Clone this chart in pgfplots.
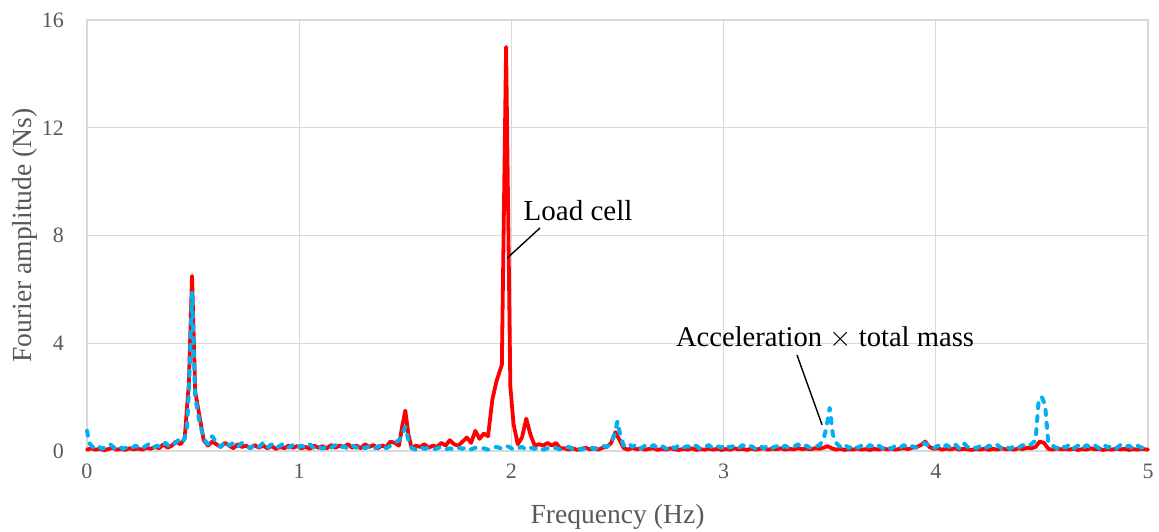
\documentclass[border=0pt]{standalone}
\usepackage{fontspec}
\setmainfont{Liberation Serif}
\usepackage{pgfplots}
\pgfplotsset{compat=1.18}
\usetikzlibrary{calc}
\definecolor{loadred}{HTML}{FF0000}
\definecolor{accblue}{HTML}{00B0F0}
\definecolor{gridgray}{HTML}{D9D9D9}
\definecolor{labgray}{HTML}{595959}

\begin{document}
\begin{tikzpicture}
\begin{axis}[
    scale only axis,
    width=530.5pt, height=215.5pt,
    xmin=0, xmax=5, ymin=0, ymax=16,
    xtick={0,1,2,3,4,5}, ytick={0,4,8,12,16},
    grid=major,
    major grid style={draw=gridgray, line width=0.6pt},
    axis line style={draw=gridgray, line width=0.6pt},
    tick style={draw=none},
    /pgf/number format/assume math mode=true,
    tick label style={font=\fontsize{11}{13}\selectfont, text=labgray},
    xticklabel style={anchor=center, yshift=-10pt},
    yticklabel style={anchor=east, xshift=-8pt},
    xlabel={Frequency (Hz)}, ylabel={Fourier amplitude (Ns)},
    label style={font=\fontsize{13.8}{16}\selectfont, text=labgray},
    xlabel style={at={($(axis description cs:0.5,0)+(0,-33pt)$)}, anchor=center},
    ylabel style={at={($(axis description cs:0,0.5)+(-31pt,0)$)}, anchor=center, rotate=0},
    clip=false,
]
% load cell
\addplot[loadred, line width=1.9pt, line join=round, line cap=round] coordinates {
(0.00,0.05) (0.02,0.10) (0.04,0.05) (0.06,0.08) (0.08,0.03) (0.10,0.07) (0.12,0.12) (0.14,0.05)
(0.16,0.08) (0.18,0.04) (0.20,0.10) (0.22,0.06) (0.24,0.09) (0.26,0.05) (0.28,0.12) (0.30,0.08)
(0.32,0.15) (0.34,0.10) (0.36,0.25) (0.38,0.12) (0.40,0.20) (0.42,0.35) (0.44,0.25) (0.46,0.45)
(0.48,2.5) (0.495,6.5) (0.51,2.2) (0.53,1.3) (0.55,0.4) (0.57,0.2) (0.59,0.35) (0.61,0.25)
(0.63,0.15) (0.65,0.3) (0.67,0.2) (0.69,0.1) (0.71,0.25) (0.73,0.15) (0.75,0.2) (0.77,0.1)
(0.79,0.22) (0.81,0.12) (0.83,0.2) (0.85,0.1) (0.87,0.18) (0.89,0.08) (0.91,0.15) (0.93,0.1)
(0.95,0.2) (0.97,0.12) (0.99,0.18) (1.01,0.1) (1.03,0.15) (1.05,0.08) (1.07,0.2) (1.09,0.12)
(1.11,0.18) (1.13,0.1) (1.15,0.22) (1.17,0.12) (1.19,0.2) (1.21,0.15) (1.23,0.25) (1.25,0.12)
(1.27,0.2) (1.29,0.1) (1.31,0.25) (1.33,0.15) (1.35,0.22) (1.37,0.1) (1.39,0.2) (1.41,0.15)
(1.43,0.35) (1.45,0.3) (1.47,0.2) (1.485,0.9) (1.50,1.5) (1.515,0.6) (1.53,0.1) (1.55,0.2)
(1.57,0.15) (1.59,0.25) (1.61,0.12) (1.63,0.2) (1.65,0.15) (1.67,0.3) (1.69,0.2) (1.71,0.4)
(1.73,0.25) (1.75,0.2) (1.77,0.35) (1.79,0.5) (1.81,0.3) (1.83,0.75) (1.85,0.45) (1.87,0.65)
(1.89,0.55) (1.91,1.9) (1.93,2.6) (1.955,3.2) (1.975,15.0) (1.995,2.4) (2.01,1.0) (2.03,0.25)
(2.05,0.5) (2.07,1.2) (2.09,0.6) (2.11,0.2) (2.13,0.25) (2.15,0.2) (2.17,0.3) (2.19,0.2)
(2.21,0.3) (2.23,0.1) (2.25,0.1) (2.27,0.05) (2.29,0.1) (2.31,0.04) (2.33,0.08) (2.35,0.12)
(2.37,0.06) (2.39,0.1) (2.41,0.05) (2.43,0.12) (2.45,0.15) (2.47,0.3) (2.49,0.7) (2.51,0.4)
(2.53,0.1) (2.55,0.05) (2.57,0.12) (2.59,0.06) (2.61,0.1) (2.63,0.05) (2.65,0.08) (2.67,0.1)
(2.69,0.04) (2.71,0.08) (2.73,0.05) (2.75,0.1) (2.77,0.06) (2.79,0.04) (2.81,0.08) (2.83,0.05)
(2.85,0.1) (2.87,0.04) (2.89,0.07) (2.91,0.05) (2.93,0.09) (2.95,0.05) (2.97,0.08) (2.99,0.04)
(3.01,0.07) (3.03,0.05) (3.05,0.1) (3.07,0.06) (3.09,0.08) (3.11,0.04) (3.13,0.09) (3.15,0.05)
(3.17,0.08) (3.19,0.1) (3.21,0.05) (3.23,0.09) (3.25,0.06) (3.27,0.1) (3.29,0.05) (3.31,0.08)
(3.33,0.06) (3.35,0.1) (3.37,0.07) (3.39,0.09) (3.41,0.06) (3.43,0.1) (3.45,0.08) (3.47,0.12)
(3.49,0.18) (3.51,0.1) (3.53,0.05) (3.55,0.08) (3.57,0.04) (3.59,0.07) (3.61,0.05) (3.63,0.09)
(3.65,0.05) (3.67,0.07) (3.69,0.04) (3.71,0.08) (3.73,0.05) (3.75,0.1) (3.77,0.06) (3.79,0.09)
(3.81,0.05) (3.83,0.08) (3.85,0.1) (3.87,0.07) (3.89,0.12) (3.91,0.15) (3.93,0.22) (3.95,0.35)
(3.97,0.15) (3.99,0.08) (4.01,0.1) (4.03,0.05) (4.05,0.09) (4.07,0.06) (4.09,0.1) (4.11,0.05)
(4.13,0.08) (4.15,0.06) (4.17,0.04) (4.19,0.08) (4.21,0.05) (4.23,0.09) (4.25,0.04) (4.27,0.08)
(4.29,0.05) (4.31,0.1) (4.33,0.06) (4.35,0.08) (4.37,0.05) (4.39,0.1) (4.41,0.07) (4.43,0.12)
(4.45,0.1) (4.47,0.15) (4.49,0.35) (4.51,0.3) (4.53,0.08) (4.55,0.05) (4.57,0.1) (4.59,0.06)
(4.61,0.08) (4.63,0.05) (4.65,0.09) (4.67,0.04) (4.69,0.07) (4.71,0.05) (4.73,0.1) (4.75,0.06)
(4.77,0.08) (4.79,0.04) (4.81,0.07) (4.83,0.05) (4.85,0.09) (4.87,0.06) (4.89,0.08) (4.91,0.04)
(4.93,0.07) (4.95,0.05) (4.97,0.08) (4.99,0.06) (5.00,0.05)
};
% acceleration x total mass
\addplot[accblue, line width=2pt, dash pattern=on 2.5pt off 4pt, line join=round, line cap=round] coordinates {
(0.00,0.75) (0.01,0.3) (0.03,0.12) (0.05,0.2) (0.07,0.08) (0.09,0.15) (0.11,0.25) (0.13,0.1)
(0.15,0.18) (0.17,0.08) (0.19,0.15) (0.21,0.1) (0.23,0.2) (0.25,0.08) (0.27,0.15) (0.29,0.25)
(0.31,0.1) (0.33,0.2) (0.35,0.12) (0.37,0.3) (0.39,0.15) (0.41,0.25) (0.43,0.4) (0.45,0.3)
(0.47,0.7) (0.48,2.2) (0.495,5.9) (0.51,2.0) (0.53,1.1) (0.55,0.45) (0.57,0.25) (0.59,0.55)
(0.61,0.3) (0.63,0.15) (0.65,0.35) (0.67,0.2) (0.69,0.3) (0.71,0.15) (0.73,0.3) (0.75,0.2)
(0.77,0.1) (0.79,0.25) (0.81,0.15) (0.83,0.3) (0.85,0.12) (0.87,0.25) (0.89,0.1) (0.91,0.2)
(0.93,0.28) (0.95,0.12) (0.97,0.22) (0.99,0.1) (1.01,0.2) (1.03,0.12) (1.05,0.25) (1.07,0.1)
(1.09,0.18) (1.11,0.08) (1.13,0.2) (1.15,0.12) (1.17,0.22) (1.19,0.1) (1.21,0.18) (1.23,0.08)
(1.25,0.2) (1.27,0.12) (1.29,0.22) (1.31,0.1) (1.33,0.18) (1.35,0.08) (1.37,0.15) (1.39,0.25)
(1.41,0.1) (1.43,0.2) (1.45,0.3) (1.47,0.4) (1.485,0.6) (1.50,0.9) (1.515,0.4) (1.53,0.12)
(1.55,0.05) (1.57,0.15) (1.59,0.08) (1.61,0.12) (1.63,0.05) (1.65,0.1) (1.67,0.15) (1.69,0.06)
(1.71,0.1) (1.73,0.05) (1.75,0.12) (1.77,0.08) (1.79,0.15) (1.81,0.06) (1.83,0.12) (1.85,0.08)
(1.87,0.1) (1.89,0.05) (1.91,0.12) (1.93,0.15) (1.95,0.1) (1.97,0.2) (1.99,0.15) (2.01,0.05)
(2.03,0.1) (2.05,0.15) (2.07,0.05) (2.09,0.12) (2.11,0.08) (2.13,0.15) (2.15,0.05) (2.17,0.1)
(2.19,0.06) (2.21,0.12) (2.23,0.05) (2.25,0.1) (2.27,0.15) (2.29,0.08) (2.31,0.12) (2.33,0.05)
(2.35,0.1) (2.37,0.15) (2.39,0.08) (2.41,0.12) (2.43,0.2) (2.45,0.15) (2.47,0.3) (2.485,0.6)
(2.50,1.1) (2.515,0.5) (2.53,0.2) (2.55,0.3) (2.57,0.15) (2.59,0.25) (2.61,0.1) (2.63,0.2)
(2.65,0.12) (2.67,0.22) (2.69,0.1) (2.71,0.18) (2.73,0.08) (2.75,0.2) (2.77,0.1) (2.79,0.22)
(2.81,0.12) (2.83,0.18) (2.85,0.1) (2.87,0.2) (2.89,0.08) (2.91,0.15) (2.93,0.22) (2.95,0.1)
(2.97,0.18) (2.99,0.12) (3.01,0.25) (3.03,0.12) (3.05,0.2) (3.07,0.1) (3.09,0.22) (3.11,0.12)
(3.13,0.18) (3.15,0.08) (3.17,0.2) (3.19,0.1) (3.21,0.22) (3.23,0.12) (3.25,0.18) (3.27,0.08)
(3.29,0.2) (3.31,0.1) (3.33,0.15) (3.35,0.25) (3.37,0.12) (3.39,0.2) (3.41,0.1) (3.43,0.18)
(3.45,0.2) (3.47,0.4) (3.485,0.9) (3.50,1.6) (3.515,0.6) (3.53,0.3) (3.55,0.15) (3.57,0.25)
(3.59,0.1) (3.61,0.22) (3.63,0.12) (3.65,0.2) (3.67,0.1) (3.69,0.22) (3.71,0.12) (3.73,0.2)
(3.75,0.1) (3.77,0.18) (3.79,0.08) (3.81,0.2) (3.83,0.12) (3.85,0.22) (3.87,0.1) (3.89,0.18)
(3.91,0.12) (3.93,0.2) (3.95,0.3) (3.97,0.15) (3.99,0.1) (4.01,0.2) (4.03,0.1) (4.05,0.22)
(4.07,0.12) (4.09,0.25) (4.11,0.1) (4.13,0.3) (4.15,0.15) (4.17,0.2) (4.19,0.1) (4.21,0.18)
(4.23,0.08) (4.25,0.2) (4.27,0.12) (4.29,0.22) (4.31,0.1) (4.33,0.18) (4.35,0.08) (4.37,0.2)
(4.39,0.12) (4.41,0.22) (4.43,0.15) (4.45,0.25) (4.47,0.4) (4.485,1.9) (4.50,2.0) (4.515,1.7)
(4.53,0.3) (4.55,0.2) (4.57,0.1) (4.59,0.22) (4.61,0.12) (4.63,0.25) (4.65,0.1) (4.67,0.2)
(4.69,0.08) (4.71,0.22) (4.73,0.12) (4.75,0.2) (4.77,0.1) (4.79,0.25) (4.81,0.12) (4.83,0.2)
(4.85,0.1) (4.87,0.22) (4.89,0.12) (4.91,0.2) (4.93,0.08) (4.95,0.2) (4.97,0.12) (4.99,0.18)
(5.00,0.1)
};
% annotations
\draw[black, line width=0.7pt] (axis cs:1.98,7.16) -- (axis cs:2.135,8.28);
\node[font=\fontsize{14.5}{17}\selectfont, anchor=center] at (axis cs:2.314,8.91) {Load cell};
\draw[black, line width=0.7pt] (axis cs:3.346,3.56) -- (axis cs:3.464,0.97);
\node[font=\fontsize{14.3}{17}\selectfont, anchor=center] at (axis cs:3.478,4.19) {Acceleration $\times$ total mass};
\end{axis}
\pgfresetboundingbox
\path[use as bounding box] ($(current axis.south west)+(-43.5pt,-40.5pt)$) rectangle ($(current axis.north east)+(5.5pt,10pt)$);
\end{tikzpicture}
\end{document}
